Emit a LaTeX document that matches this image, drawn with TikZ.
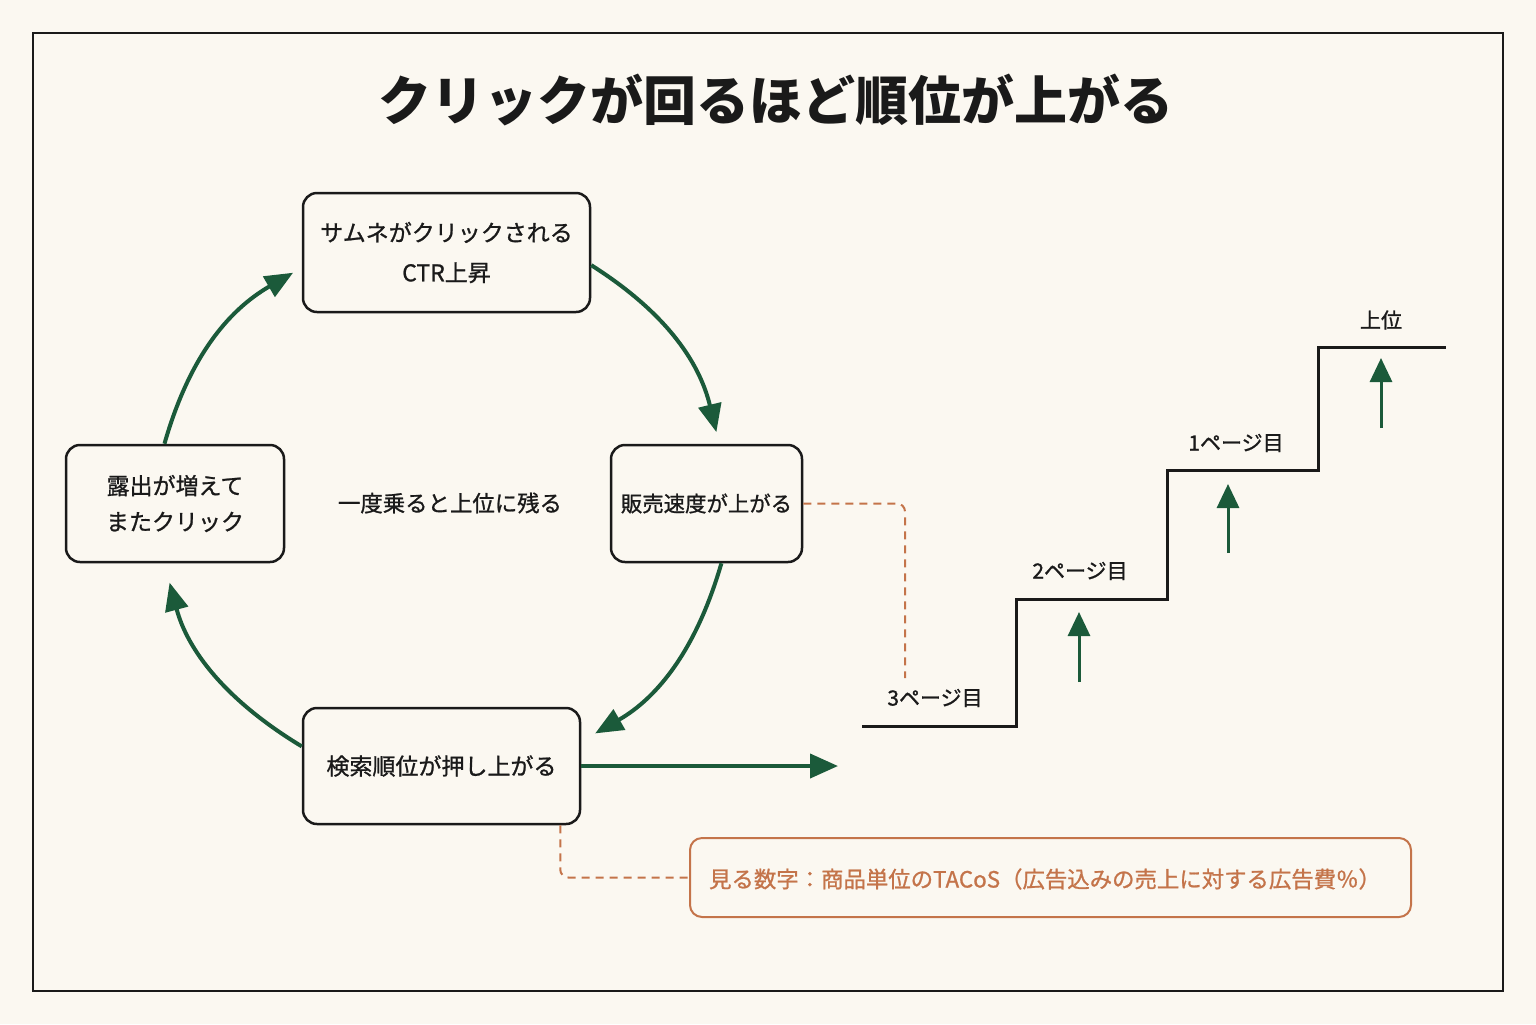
\documentclass[tikz,border=0pt]{standalone}
\usepackage{fontspec}
\setmainfont{Noto Sans CJK JP}
\newfontfamily\medjp[FakeBold=1.0]{Noto Sans CJK JP}
\usetikzlibrary{arrows.meta}
\definecolor{bg}{HTML}{FBF8F1}
\definecolor{dgreen}{HTML}{1B5A3A}
\definecolor{orng}{HTML}{C4744A}
\definecolor{ink}{HTML}{1A1A1A}
\begin{document}
\begin{tikzpicture}[x=0.5pt,y=-0.5pt,
  box/.style={draw=ink, line width=1.25pt, rounded corners=7pt, fill=bg, align=center,
    font=\medjp\fontsize{11.5}{20}\selectfont, text=ink, inner sep=0pt},
  cyc/.style={draw=dgreen, line width=2pt, -{Triangle[length=14pt,width=11.5pt]}, bend left=22},
  uparr/.style={draw=dgreen, line width=1.5pt, -{Triangle[length=12pt,width=11pt]}},
  lbl/.style={font=\medjp\fontsize{10.5}{12}\selectfont, text=ink, inner sep=0pt},
  dashlink/.style={draw=orng, line width=1pt, dash pattern=on 4pt off 3pt, rounded corners=4pt}
]
\fill[bg] (0,0) rectangle (1536,1024);
\useasboundingbox (0,0) rectangle (1536,1024);
\draw[ink, line width=1pt] (33,33) rectangle (1503,991);

\node[font=\fontsize{26.5}{30}\selectfont\bfseries, text=ink] (title) at (776,100) {クリックが回るほど順位が上がる};

\node[box, minimum width=143.5pt, minimum height=59.5pt] (top) at (446.5,252.5) {\raisebox{-1.5pt}{サムネがクリックされる}\\\raisebox{-1.5pt}{CTR上昇}};
\node[box, minimum width=95.5pt, minimum height=58.5pt, font=\medjp\fontsize{10.7}{14}\selectfont] (right) at (706.5,503.5) {販売速度が上がる};
\node[box, minimum width=138.5pt, minimum height=58pt] (bottom) at (441.5,766) {検索順位が押し上がる};
\node[box, minimum width=109pt, minimum height=58.5pt, font=\medjp\fontsize{11.5}{18}\selectfont] (left) at (175,503.5) {露出が増えて\\またクリック};
\node[font=\medjp\fontsize{11.2}{14}\selectfont, text=ink, inner sep=0pt] (mid) at (450,503) {一度乗ると上位に残る};

\draw[cyc, shorten >=6pt] (top.-5) to (right.78);
\draw[cyc, shorten >=8pt] (right.-76) to (bottom.10);
\draw[cyc, shorten >=10pt] (bottom.172) to (left.-100);
\draw[cyc, shorten >=5pt] (left.100) to (top.186);

\coordinate (stairs) at (838,766);
\draw[dgreen, line width=2pt, -{Triangle[length=14pt,width=12pt]}] (bottom.east) -- (stairs);

% staircase
\draw[ink, line width=1.5pt] (862,726) -- (1016,726) -- (1016,599) -- (1167,599) -- (1167,470) -- (1318,470) -- (1318,347) -- (1446,347);
\node[lbl] (p3) at (935,698) {3ページ目};
\node[lbl] (p2) at (1080,571) {2ページ目};
\node[lbl] (p1) at (1236,443) {1ページ目};
\node[lbl] (ptop) at (1381,320) {上位};

\coordinate (a1s) at (1079,682); \coordinate (a1e) at (1079,612);
\coordinate (a2s) at (1228,553); \coordinate (a2e) at (1228,484);
\coordinate (a3s) at (1381,428); \coordinate (a3e) at (1381,358);
\draw[uparr] (a1s) -- (a1e);
\draw[uparr] (a2s) -- (a2e);
\draw[uparr] (a3s) -- (a3e);

% note
\node[draw=orng, line width=1pt, rounded corners=6pt, fill=bg, minimum width=360.5pt, minimum height=39.5pt,
  inner sep=0pt] (note) at (1050.5,877.5) {};
\node[text=orng, font=\medjp\fontsize{11.2}{14}\selectfont, inner sep=0pt] (notetext) at (1045,879)
  {見る数字：商品単位のTACoS（広告込みの売上に対する広告費％）};

\coordinate (p3top) at (905,678);
\draw[dashlink] (right.east) -| (p3top);
\draw[dashlink] ([xshift=-10.5pt]bottom.south east) |- (note.west);
\end{tikzpicture}
\end{document}
